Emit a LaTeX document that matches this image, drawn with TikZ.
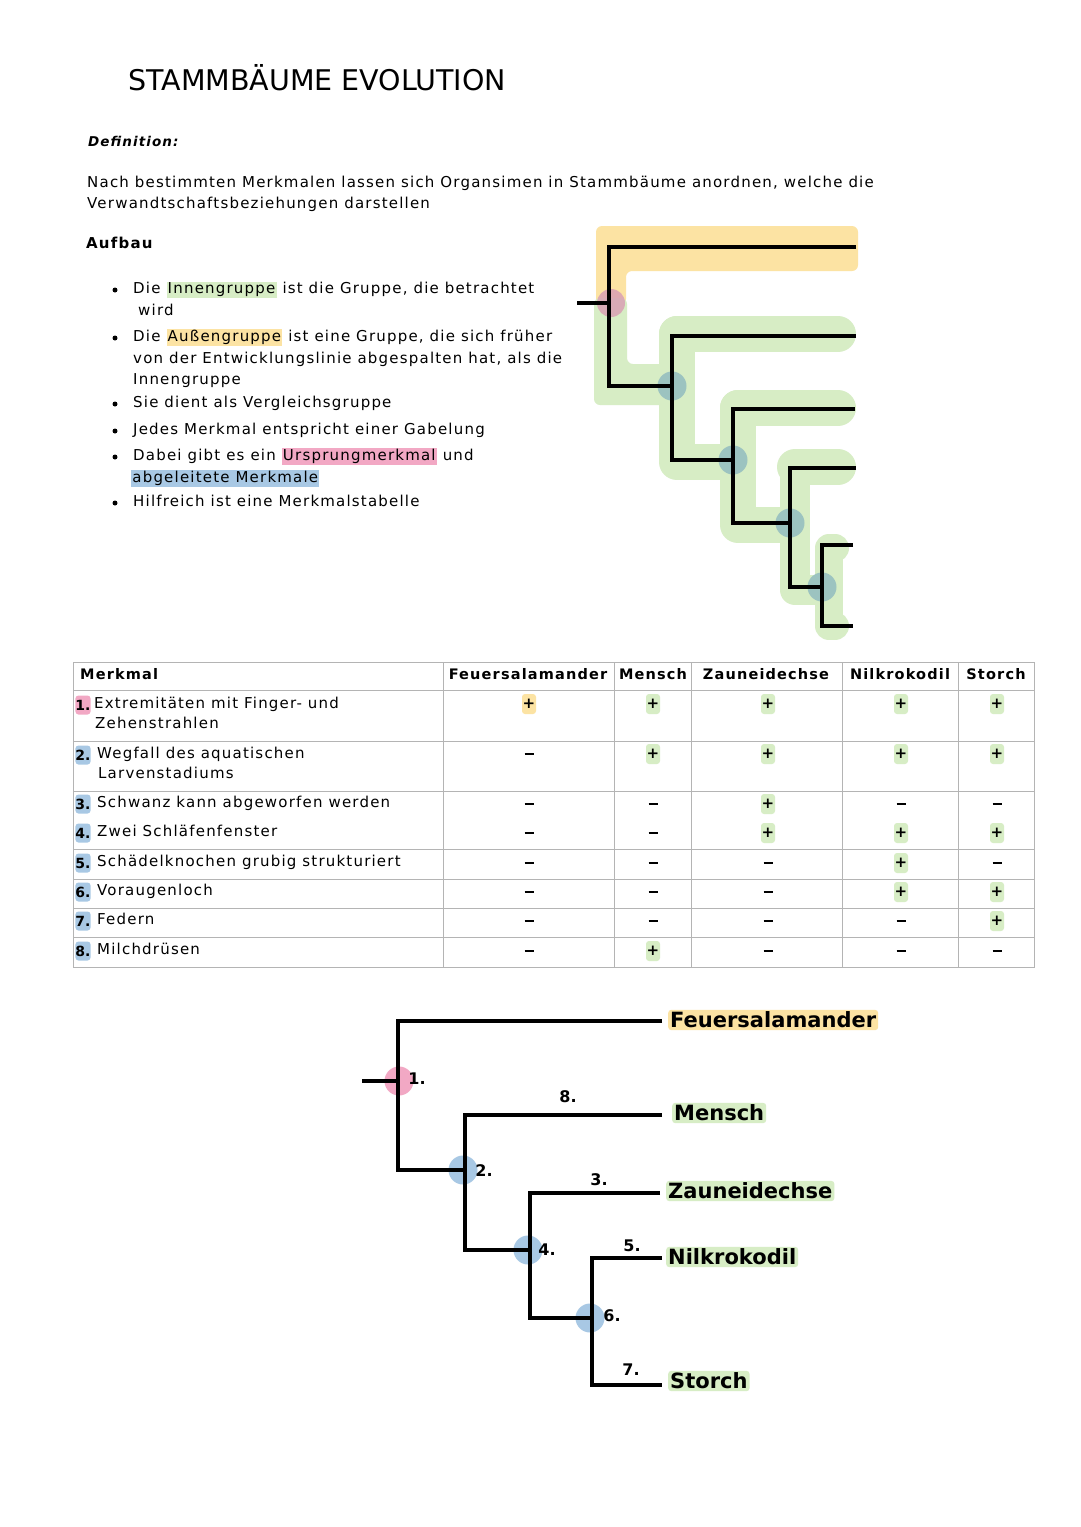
\documentclass[tikz,border=0pt]{standalone}
\usepackage{fontspec}
\setmainfont{DejaVu Sans}
\newfontfamily\hand[LetterSpace=8]{DejaVu Sans}
\newfontfamily\handplain{DejaVu Sans}
\definecolor{hlgreen}{HTML}{D7EDC5}
\definecolor{hlyellow}{HTML}{FCE3A3}
\definecolor{hlpink}{HTML}{F2A8C4}
\definecolor{hlblue}{HTML}{A8C8E4}
\definecolor{hlteal}{HTML}{9CC3C0}
\definecolor{hlmauve}{HTML}{D9A0B4}
\definecolor{gridgray}{HTML}{B4B4B4}
\newcommand{\hlc}[2]{{\setlength{\fboxsep}{1.2pt}\colorbox{#1}{\vphantom{Ag}#2}}}
\tikzset{
  body/.style={font=\hand\fontsize{15}{21}\selectfont, anchor=west, inner sep=0pt, text height=11pt, text depth=3.5pt},
  bodyb/.style={body, font=\hand\bfseries\fontsize{15}{21}\selectfont},
  cell/.style={font=\hand\fontsize{15}{20}\selectfont, anchor=west, inner sep=0pt, text height=11pt, text depth=3.5pt},
  headc/.style={font=\hand\bfseries\fontsize{14.5}{20}\selectfont, inner sep=0pt, text height=11pt, text depth=3.5pt},
  bulletdot/.style={circle, fill=black, inner sep=0pt, minimum size=5pt},
  tline/.style={line width=3.6pt, line join=miter, line cap=butt, draw=black},
  hlband/.style={line width=36pt, draw=hlgreen, line join=round, line cap=round},
  badge/.style={font=\handplain\bfseries\fontsize{14}{16}\selectfont, fill=#1, rounded corners=3pt, inner sep=0pt, minimum width=12pt, minimum height=19pt},
  plusc/.style={font=\handplain\bfseries\fontsize{15}{15}\selectfont, fill=#1, rounded corners=3pt, inner sep=0pt, minimum width=14pt, minimum height=20pt},
  minusc/.style={inner sep=0pt},
  species/.style={font=\handplain\bfseries\fontsize{21}{24}\selectfont, fill=#1, rounded corners=3pt, inner sep=2pt, anchor=west},
  numlab/.style={font=\handplain\bfseries\fontsize{16}{18}\selectfont, inner sep=0pt},
  dot/.style={circle, fill=#1, inner sep=0pt, minimum size=29pt},
}
\begin{document}
\begin{tikzpicture}[x=1pt, y=-1pt]
\useasboundingbox (0,0) rectangle (1080,1527);
\fill[white] (0,0) rectangle (1080,1527);

% ---------- title and text ----------
\node[font=\handplain\fontsize{28.5}{30}\selectfont, anchor=base west, inner sep=0pt] (title) at (128,90) {STAMMBÄUME EVOLUTION};
\node[body, font=\hand\bfseries\itshape\fontsize{13.5}{18}\selectfont] (def) at (88,143) {Definition:};
\node[body] (p1) at (87,184) {Nach bestimmten Merkmalen lassen sich Organsimen in Stammbäume anordnen, welche die};
\node[body] (p2) at (87,205) {Verwandtschaftsbeziehungen darstellen};
\node[bodyb] (aufbau) at (86,245) {Aufbau};

\foreach \yy/\nm in {290/b1, 338/b2, 404/b3, 431/b4, 457/b5, 503/b6}
  \node[bulletdot] (\nm) at (115,\yy) {};
\node[body] (l1) at (133,290) {Die \hlc{hlgreen}{Innengruppe} ist die Gruppe, die betrachtet};
\node[body] (l2) at (138,312) {wird};
\node[body] (l3) at (133,338) {Die \hlc{hlyellow}{Außengruppe} ist eine Gruppe, die sich früher};
\node[body] (l4) at (133,360) {von der Entwicklungslinie abgespalten hat, als die};
\node[body] (l5) at (133,381) {Innengruppe};
\node[body] (l6) at (133,404) {Sie dient als Vergleichsgruppe};
\node[body] (l7) at (133,431) {Jedes Merkmal entspricht einer Gabelung};
\node[body] (l8) at (133,457) {Dabei gibt es ein \hlc{hlpink}{Ursprungmerkmal} und};
\node[body] (l9) at (131,479) {\hlc{hlblue}{abgeleitete Merkmale}};
\node[body] (l10) at (133,503) {Hilfreich ist eine Merkmalstabelle};

% ---------- top tree ----------
\coordinate (r0) at (577,303); \coordinate (n1) at (611,303);
\coordinate (T1) at (856,247); \coordinate (c1t) at (609,247); \coordinate (c1b) at (609,386); \coordinate (n2) at (672,386);
\coordinate (T2) at (856,336); \coordinate (c2t) at (672,336); \coordinate (c2b) at (672,460); \coordinate (n3) at (733,460);
\coordinate (T3) at (855,409); \coordinate (c3t) at (733,409); \coordinate (c3b) at (733,523); \coordinate (n4) at (790,523);
\coordinate (T4) at (856,468); \coordinate (c4t) at (790,468); \coordinate (c4b) at (790,587); \coordinate (n5) at (822,587);
\coordinate (T5) at (853,545); \coordinate (c5t) at (822,545); \coordinate (c5b) at (822,626); \coordinate (T6) at (853,626);

% highlight bands
\fill[hlyellow, rounded corners=6pt] (596,226) -- (858,226) -- (858,271) -- (626,271) -- (626,305) -- (596,305) -- cycle;
\fill[hlgreen, rounded corners=6pt] (594,298) -- (627,298) -- (627,364) -- (668,364) -- (668,405) -- (594,405) -- cycle;
\draw[hlband] (677,334) -- (838,334);
\draw[hlband] (677,334) -- (677,462) -- (720,462);
\draw[hlband] (738,408) -- (838,408);
\draw[hlband] (738,408) -- (738,525) -- (780,525);
\draw[hlband] (795,467) -- (838,467);
\draw[hlband, line width=30pt] (795,467) -- (795,590) -- (815,590);
\draw[hlband, line width=28pt] (829,548) -- (835,548) (829,548) -- (829,626) -- (835,626);

\node[dot=hlmauve, minimum size=28pt, opacity=0.85] (d1) at (n1) {};
\node[dot=hlteal] (d2) at (n2) {};
\node[dot=hlteal] (d3) at (n3) {};
\node[dot=hlteal] (d4) at (n4) {};
\node[dot=hlteal] (d5) at (n5) {};

\draw[tline] (r0) -- (n1);
\draw[tline] (T1) -- (c1t) -- (c1b) -- (n2);
\draw[tline] (T2) -- (c2t) -- (c2b) -- (n3);
\draw[tline] (T3) -- (c3t) -- (c3b) -- (n4);
\draw[tline] (T4) -- (c4t) -- (c4b) -- (n5);
\draw[tline] (T5) -- (c5t) -- (c5b) -- (T6);

% ---------- table ----------
\draw[gridgray, line width=1pt] (73,662) rectangle (1034,967);
\foreach \xx in {443,614,691,842,958} \draw[gridgray, line width=1pt] (\xx,662) -- (\xx,967);
\foreach \yy in {690,741,791,849,879,908,937} \draw[gridgray, line width=1pt] (73,\yy) -- (1034,\yy);

\node[headc, anchor=west] (hM) at (80,676) {Merkmal};
\node[headc] (hF) at (528,676) {Feuersalamander};
\node[headc] (hMe) at (653,676) {Mensch};
\node[headc] (hZ) at (766,676) {Zauneidechse};
\node[headc] (hN) at (900,676) {Nilkrokodil};
\node[headc] (hS) at (996,676) {Storch};

\node[badge=hlpink] (k1) at (83,705) {1.};
\foreach \k/\yy in {2/755, 3/804, 4/833, 5/863, 6/892, 7/921, 8/951}
  \node[badge=hlblue] (k\k) at (83,\yy) {\k.};
\node[cell] (m1a) at (94,705) {Extremitäten mit Finger- und};
\node[cell] (m1b) at (95,725) {Zehenstrahlen};
\node[cell] (m2a) at (97,755) {Wegfall des aquatischen};
\node[cell] (m2b) at (98,775) {Larvenstadiums};
\node[cell] (m3) at (97,804) {Schwanz kann abgeworfen werden};
\node[cell] (m4) at (97,833) {Zwei Schläfenfenster};
\node[cell] (m5) at (97,863) {Schädelknochen grubig strukturiert};
\node[cell] (m6) at (97,892) {Voraugenloch};
\node[cell] (m7) at (97,921) {Federn};
\node[cell] (m8) at (97,951) {Milchdrüsen};

\node[plusc=hlyellow] (py) at (529,704) {+};
\foreach \xx/\yy [count=\i] in {653/704,768/704,901/704,997/704,653/754,768/754,901/754,997/754,768/804,768/833,901/833,997/833,901/863,901/892,997/892,997/921,653/951}
  \node[plusc=hlgreen] (pg\i) at (\xx,\yy) {+};
\foreach \xx/\yy [count=\i] in {529/754,529/804,653/804,901/804,997/804,529/833,653/833,529/863,653/863,768/863,997/863,529/892,653/892,768/892,529/921,653/921,768/921,901/921,529/951,768/951,901/951,997/951}
  \node[minusc] (mm\i) at (\xx,\yy) {\rule{9pt}{1.6pt}};

% ---------- bottom tree ----------
\coordinate (R0) at (362,1081); \coordinate (m1) at (400,1081);
\coordinate (F) at (662,1021); \coordinate (b1t) at (398,1021); \coordinate (b1b) at (398,1170); \coordinate (m2) at (465,1170);
\coordinate (M) at (662,1115); \coordinate (b2t) at (465,1115); \coordinate (b2b) at (465,1250); \coordinate (m3) at (530,1250);
\coordinate (Z) at (660,1193); \coordinate (b3t) at (530,1193); \coordinate (b3b) at (530,1318); \coordinate (m4) at (592,1318);
\coordinate (N) at (662,1258); \coordinate (b4t) at (592,1258); \coordinate (b4b) at (592,1385); \coordinate (S) at (662,1385);

\node[dot=hlpink] (e1) at (399,1081) {};
\node[dot=hlblue] (e2) at (463,1170) {};
\node[dot=hlblue] (e3) at (528,1250) {};
\node[dot=hlblue] (e4) at (590,1318) {};

\draw[tline] (R0) -- (m1);
\draw[tline] (F) -- (b1t) -- (b1b) -- (m2);
\draw[tline] (M) -- (b2t) -- (b2b) -- (m3);
\draw[tline] (Z) -- (b3t) -- (b3b) -- (m4);
\draw[tline] (N) -- (b4t) -- (b4b) -- (S);

\node[species=hlyellow] (sF) at (668,1020) {Feuersalamander};
\node[species=hlgreen] (sM) at (672,1113) {Mensch};
\node[species=hlgreen] (sZ) at (666,1191) {Zauneidechse};
\node[species=hlgreen] (sN) at (666,1257) {Nilkrokodil};
\node[species=hlgreen] (sS) at (668,1381) {Storch};

\node[numlab] (t1) at (417,1079) {1.};
\node[numlab] (t8) at (568,1097) {8.};
\node[numlab] (t2) at (484,1171) {2.};
\node[numlab] (t3) at (599,1180) {3.};
\node[numlab] (t4) at (547,1250) {4.};
\node[numlab] (t5) at (632,1246) {5.};
\node[numlab] (t6) at (612,1316) {6.};
\node[numlab] (t7) at (631,1370) {7.};
\end{tikzpicture}
\end{document}
